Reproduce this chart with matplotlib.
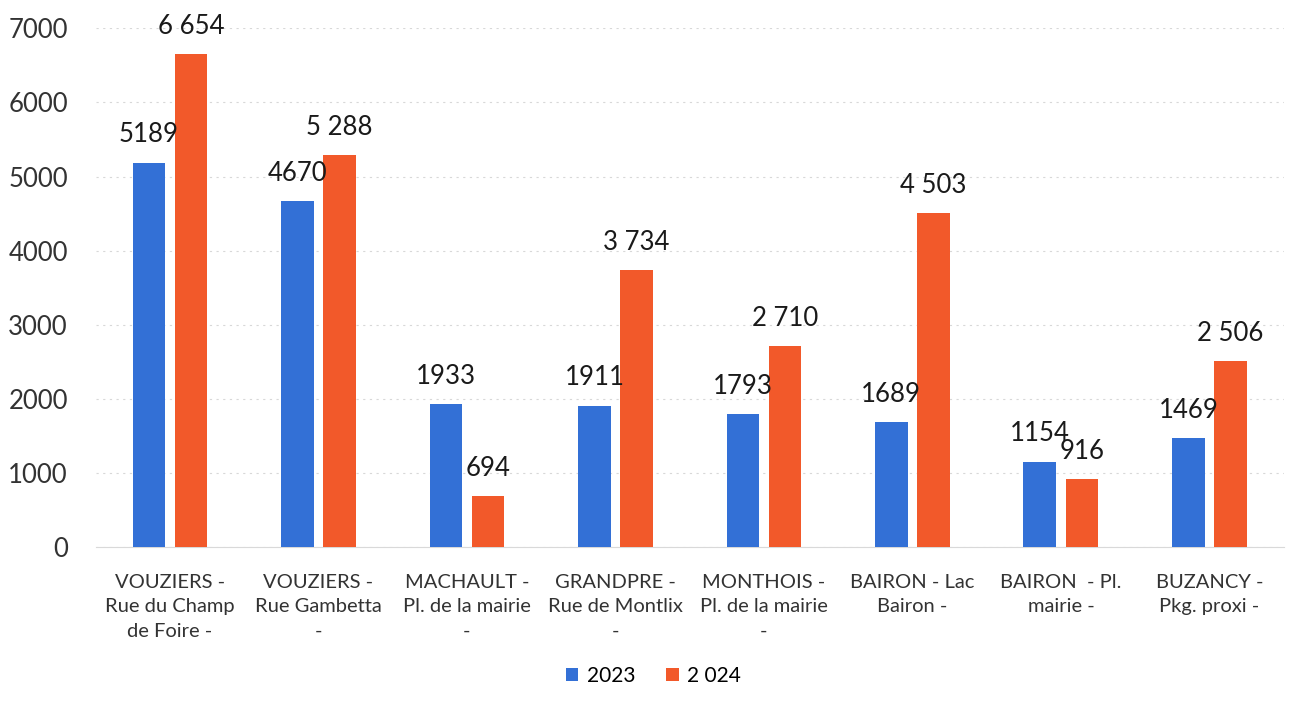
import matplotlib.pyplot as plt
import numpy as np

# data
sites = [
    "VOUZIERS -\nRue du Champ\nde Foire -",
    "VOUZIERS -\nRue Gambetta\n-",
    "MACHAULT -\nPl. de la mairie\n-",
    "GRANDPRE -\nRue de Montlix\n-",
    "MONTHOIS -\nPl. de la mairie\n-",
    "BAIRON - Lac\nBairon -",
    "BAIRON  - Pl.\nmairie -",
    "BUZANCY -\nPkg. proxi -",
]
v2023 = [5189, 4670, 1933, 1911, 1793, 1689, 1154, 1469]
v2024 = [6654, 5288, 694, 3734, 2710, 4503, 916, 2506]
labels_2023 = ["5189", "4670", "1933", "1911", "1793", "1689", "1154", "1469"]
labels_2024 = ["6 654", "5 288", "694", "3 734", "2 710", "4 503", "916", "2 506"]
yticks = [0, 1000, 2000, 3000, 4000, 5000, 6000, 7000]

blue = "#3370d6"
orange = "#f2592a"

plt.rcParams['font.family'] = ['Lato', 'DejaVu Sans']

fig = plt.figure(figsize=(12.94, 7.08), dpi=100)
ax = fig.add_axes([0.074, 0.227, 0.918, 0.733])

x = np.arange(len(sites))
w = 0.22
off = 0.142
b1 = ax.bar(x - off, v2023, w, color=blue, label="2023", zorder=3)
b2 = ax.bar(x + off, v2024, w, color=orange, label="2 024", zorder=3)

for rect, txt in zip(b1, labels_2023):
    ax.annotate(txt, (rect.get_x() + rect.get_width() / 2, rect.get_height()),
                xytext=(0, 11), textcoords="offset points", ha="center", va="bottom",
                fontsize=18.5, color="#1a1a1a", zorder=4)
for rect, txt in zip(b2, labels_2024):
    ax.annotate(txt, (rect.get_x() + rect.get_width() / 2, rect.get_height()),
                xytext=(0, 11), textcoords="offset points", ha="center", va="bottom",
                fontsize=18.5, color="#1a1a1a", zorder=4)

ax.set_xlim(-0.5, len(sites) - 0.5)
ax.set_ylim(0, 7000)
ax.set_yticks(yticks)
ax.set_yticklabels([str(t) for t in yticks], fontsize=18.5, color="#333333")
ax.set_xticks(x)
ax.set_xticklabels(sites, fontsize=14.5, color="#333333", linespacing=1.55)
ax.tick_params(axis="both", length=0)
ax.tick_params(axis="y", pad=20)
ax.tick_params(axis="x", pad=19)

ax.grid(axis="y", color="#d8d8d8", linestyle=(0, (2, 4)), linewidth=0.8, zorder=0)
for s in ["top", "right", "left"]:
    ax.spines[s].set_visible(False)
ax.spines["bottom"].set_color("#d9d9d9")

fig.legend(handles=[b1, b2], labels=["2023", "2 024"], loc="center",
           bbox_to_anchor=(0.505, 0.045), ncol=2, frameon=False, fontsize=15,
           handlelength=0.6, handleheight=0.6, handletextpad=0.4, columnspacing=1.5)

fig.savefig("out.png", dpi=100)
